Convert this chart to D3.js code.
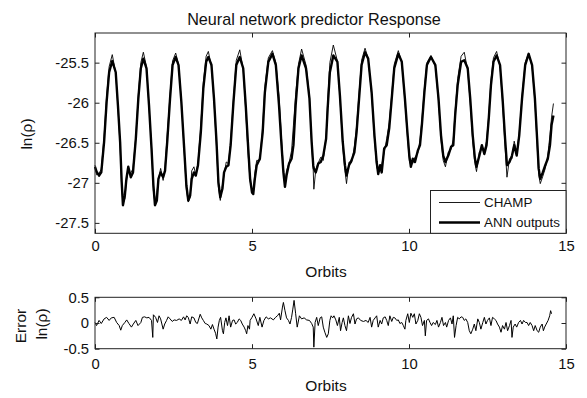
<!DOCTYPE html>
<html>
<head>
<meta charset="utf-8">
<script src="https://cdn.jsdelivr.net/npm/d3@7"></script>
<style>
  body { margin: 0; background: #fff; }
  svg { font-family: "Liberation Sans", Arial, sans-serif; }
</style>
</head>
<body>
<div id="chart"></div>
<script>
// orbit positions shared by the two upper curves
var orbits = [
  0.00,0.05,0.13,0.20,0.29,0.37,0.45,0.55,0.66,0.73,0.80,0.85,0.89,0.95,
  1.00,1.06,1.14,1.21,1.30,1.38,1.46,1.54,1.64,1.72,1.80,1.86,1.91,1.97,
  2.02,2.09,2.17,2.23,2.30,2.39,2.47,2.57,2.66,2.75,2.84,2.91,2.97,
  3.03,3.08,3.15,3.21,3.28,3.37,3.45,3.54,3.61,3.71,3.79,3.87,3.93,3.99,
  4.06,4.11,4.18,4.25,4.32,4.41,4.50,4.61,4.72,4.80,4.88,4.94,
  5.00,5.04,5.09,5.15,5.25,5.34,5.41,5.52,5.65,5.76,5.86,5.94,
  6.00,6.05,6.10,6.18,6.26,6.32,6.39,6.48,6.58,6.72,6.83,6.90,6.95,6.97,
  7.03,7.11,7.19,7.27,7.36,7.41,7.48,7.59,7.72,7.80,7.89,7.96,
  8.01,8.09,8.17,8.26,8.33,8.41,8.49,8.60,8.70,8.81,8.90,8.97,
  9.02,9.08,9.13,9.21,9.29,9.37,9.45,9.53,9.66,9.77,9.87,9.95,
  10.01,10.06,10.12,10.19,10.28,10.35,10.41,10.49,10.57,10.70,10.84,10.94,
  11.02,11.09,11.16,11.25,11.34,11.41,11.47,11.55,11.66,11.76,11.87,11.95,
  12.03,12.10,12.15,12.24,12.32,12.40,12.47,12.54,12.61,12.69,12.79,12.90,12.98,
  13.06,13.12,13.20,13.28,13.35,13.43,13.51,13.60,13.70,13.81,13.92,
  14.01,14.08,14.13,14.18,14.26,14.34,14.42,14.49,14.54,14.60
];

// measured density, ln(rho)
var champ = [
  -26.78,-26.90,-26.88,-26.83,-26.42,-25.92,-25.55,-25.40,-25.63,-26.06,-26.55,-27.06,-27.26,-27.20,
  -26.98,-26.85,-26.88,-26.82,-26.42,-25.90,-25.50,-25.37,-25.55,-26.05,-26.55,-27.10,-27.25,-27.12,
  -26.96,-26.82,-26.97,-26.80,-26.40,-25.90,-25.48,-25.38,-25.52,-25.98,-26.60,-27.08,-27.24,
  -27.18,-26.85,-26.80,-26.90,-26.75,-26.28,-25.75,-25.42,-25.36,-25.55,-25.98,-26.55,-27.05,-27.22,
  -27.02,-26.90,-26.74,-26.76,-26.48,-25.95,-25.47,-25.34,-25.58,-26.10,-26.66,-26.98,
  -27.10,-27.12,-26.88,-26.72,-26.72,-26.30,-25.80,-25.44,-25.35,-25.50,-25.92,-26.45,
  -26.82,-27.00,-26.85,-26.75,-26.60,-26.28,-25.90,-25.52,-25.33,-25.53,-25.92,-26.52,-26.84,-27.08,
  -26.84,-26.75,-26.68,-26.72,-26.42,-25.98,-25.50,-25.28,-25.48,-25.93,-26.55,-26.85,
  -27.01,-26.74,-26.75,-26.55,-26.30,-25.88,-25.47,-25.32,-25.45,-25.90,-26.45,-26.80,
  -26.86,-26.82,-26.78,-26.62,-26.45,-26.25,-25.90,-25.52,-25.35,-25.50,-25.98,-26.42,
  -26.72,-26.78,-26.76,-26.68,-26.63,-26.47,-26.22,-25.82,-25.50,-25.41,-25.55,-25.98,
  -26.46,-26.72,-26.80,-26.62,-26.58,-26.46,-26.10,-25.70,-25.42,-25.37,-25.60,-26.00,
  -26.48,-26.76,-26.86,-26.62,-26.58,-26.60,-26.48,-26.15,-25.72,-25.44,-25.36,-25.55,-26.00,
  -26.55,-26.93,-26.70,-26.70,-26.48,-26.62,-26.38,-25.92,-25.50,-25.38,-25.55,
  -25.98,-26.52,-26.90,-27.01,-26.92,-26.82,-26.66,-26.40,-26.18,-26.01
];

// network prediction, ln(rho)
var ann = [
  -26.80,-26.86,-26.91,-26.87,-26.49,-25.99,-25.62,-25.48,-25.62,-26.03,-26.49,-26.99,-27.28,-27.16,
  -26.95,-26.80,-26.93,-26.87,-26.45,-25.95,-25.57,-25.45,-25.57,-26.03,-26.57,-27.03,-27.28,-27.22,
  -26.95,-26.87,-26.93,-26.85,-26.49,-25.95,-25.53,-25.43,-25.53,-25.99,-26.57,-27.03,-27.22,
  -27.16,-26.95,-26.87,-26.91,-26.78,-26.37,-25.82,-25.49,-25.43,-25.53,-25.95,-26.49,-26.99,-27.18,
  -27.07,-26.87,-26.80,-26.78,-26.53,-25.99,-25.53,-25.43,-25.57,-26.03,-26.57,-26.95,
  -27.12,-27.14,-26.95,-26.78,-26.70,-26.37,-25.87,-25.49,-25.39,-25.53,-26.03,-26.53,
  -26.87,-27.05,-26.91,-26.76,-26.70,-26.53,-26.03,-25.57,-25.41,-25.57,-25.95,-26.49,-26.78,-26.82,
  -26.87,-26.76,-26.74,-26.66,-26.45,-26.07,-25.62,-25.41,-25.49,-25.91,-26.49,-26.78,
  -26.91,-26.78,-26.72,-26.62,-26.37,-25.95,-25.53,-25.37,-25.45,-25.87,-26.41,-26.74,
  -26.89,-26.78,-26.87,-26.57,-26.53,-26.32,-25.95,-25.57,-25.39,-25.49,-25.95,-26.37,
  -26.66,-26.80,-26.70,-26.74,-26.60,-26.53,-26.28,-25.87,-25.53,-25.43,-25.53,-25.95,
  -26.41,-26.66,-26.74,-26.66,-26.55,-26.53,-26.16,-25.78,-25.49,-25.47,-25.57,-25.95,
  -26.41,-26.70,-26.80,-26.66,-26.53,-26.64,-26.53,-26.20,-25.78,-25.49,-25.41,-25.53,-25.95,
  -26.45,-26.78,-26.74,-26.66,-26.53,-26.66,-26.41,-25.95,-25.53,-25.39,-25.53,
  -25.95,-26.45,-26.82,-26.95,-26.87,-26.78,-26.70,-26.53,-26.28,-26.16
];

// error panel
var errOrbits = [
  0.00,0.05,0.13,0.20,0.29,0.37,0.45,0.52,0.61,0.69,0.77,0.82,0.87,0.95,
  1.01,1.08,1.16,1.22,1.30,1.37,1.46,1.51,1.58,1.65,1.72,1.80,1.84,1.86,1.93,1.99,
  2.04,2.09,2.17,2.22,2.28,2.33,2.39,2.46,2.52,2.60,2.68,2.75,2.82,2.87,2.92,2.97,
  3.03,3.08,3.15,3.21,3.26,3.35,3.40,3.45,3.51,3.56,3.63,3.69,3.74,3.79,3.84,3.88,3.92,3.96,
  4.00,4.06,4.09,4.13,4.17,4.22,4.27,4.32,4.38,4.43,4.48,4.53,4.59,4.64,4.69,4.75,4.80,4.83,4.87,4.92,
  4.94,5.00,5.06,5.13,5.20,5.25,5.32,5.38,5.45,5.52,5.59,5.68,5.75,5.81,5.87,5.91,5.97,
  6.00,6.05,6.10,6.16,6.21,6.26,6.30,6.34,6.39,6.44,6.51,6.58,6.66,6.74,6.83,6.90,6.95,6.97,
  7.01,7.06,7.11,7.17,7.22,7.27,7.32,7.38,7.43,7.48,7.52,7.57,7.61,7.67,7.72,7.78,7.82,7.87,7.91,7.96,
  8.01,8.07,8.12,8.17,8.23,8.28,8.33,8.39,8.46,8.55,8.63,8.70,8.76,8.81,8.86,8.92,8.97,
  9.02,9.08,9.13,9.18,9.24,9.29,9.34,9.39,9.45,9.50,9.55,9.61,9.66,9.71,9.77,9.82,9.87,9.90,9.96,
  10.01,10.06,10.12,10.17,10.22,10.28,10.33,10.38,10.43,10.49,10.52,10.56,10.62,10.67,10.72,10.77,10.84,10.89,10.94,
  11.00,11.05,11.10,11.16,11.20,11.26,11.32,11.37,11.41,11.45,11.50,11.55,11.60,11.66,11.71,11.76,11.81,11.87,11.92,11.97,
  12.03,12.08,12.13,12.19,12.24,12.29,12.35,12.40,12.45,12.50,12.56,12.61,12.66,12.72,12.77,12.82,12.88,12.93,12.98,
  13.04,13.09,13.14,13.20,13.25,13.28,13.32,13.38,13.43,13.49,13.55,13.60,13.65,13.71,13.76,13.81,13.86,13.92,13.97,
  14.02,14.08,14.13,14.18,14.24,14.28,14.32,14.37,14.43,14.48,14.51,14.54
];
var errValues = [
  0.01,-0.05,0.05,-0.01,0.08,0.11,0.05,0.10,0.11,0.01,-0.05,-0.14,-0.05,0.01,
  0.06,-0.01,-0.08,-0.02,0.05,-0.05,0.01,0.11,0.12,0.10,0.11,0.05,-0.28,0.16,0.11,0.01,
  0.14,0.08,-0.12,-0.02,0.05,0.12,0.08,0.03,0.06,0.05,0.08,0.05,0.12,0.06,0.14,0.11,
  -0.02,0.12,0.10,0.01,-0.01,0.17,0.10,0.05,-0.01,-0.02,-0.05,-0.12,-0.03,-0.12,-0.20,-0.31,-0.08,0.05,
  0.11,-0.15,-0.21,0.01,0.10,-0.05,0.14,-0.08,0.05,0.06,-0.02,0.01,0.08,0.05,-0.02,-0.08,-0.15,-0.21,-0.05,-0.12,
  0.05,0.11,0.18,0.08,-0.05,0.11,-0.08,0.05,0.12,0.08,0.10,0.06,0.11,0.14,0.19,0.06,0.31,
  0.40,0.24,0.10,0.05,-0.02,0.11,0.27,0.44,0.18,-0.08,0.14,0.08,0.10,0.06,0.05,-0.01,-0.08,-0.47,
  0.01,0.11,-0.05,0.10,0.12,-0.08,-0.18,-0.28,-0.21,0.05,0.14,0.10,0.14,0.06,-0.05,0.11,-0.15,0.01,0.10,-0.05,
  -0.15,0.14,-0.01,0.11,0.18,-0.02,0.08,0.10,0.05,0.03,0.05,0.01,0.11,-0.08,0.05,0.10,0.14,
  -0.08,0.05,-0.02,0.10,0.12,0.05,-0.05,0.14,0.03,0.11,0.10,0.05,0.06,-0.01,0.01,-0.05,-0.12,0.05,0.18,
  0.01,0.19,0.11,0.18,-0.02,0.05,0.18,0.11,-0.05,0.05,-0.25,0.05,0.08,0.01,-0.05,0.01,-0.03,0.05,-0.08,
  0.01,0.11,-0.05,0.01,-0.08,0.05,0.10,-0.02,0.14,-0.28,-0.05,0.11,0.08,0.12,0.11,0.05,0.08,0.01,-0.15,-0.21,
  -0.12,-0.02,-0.15,0.08,0.01,-0.12,0.01,0.11,-0.02,0.05,0.10,-0.05,0.11,0.08,0.05,-0.02,-0.08,-0.18,-0.05,
  -0.12,0.01,-0.15,-0.05,0.05,-0.28,-0.08,-0.02,-0.08,0.01,0.05,-0.02,0.05,0.01,0.01,-0.05,0.01,-0.05,-0.15,
  -0.05,-0.15,-0.18,-0.08,-0.02,-0.15,-0.08,-0.02,0.05,0.14,0.24,0.18
];

// tick values
var xTicks = [0, 5, 10, 15];
var yTicks = [-27.5, -27, -26.5, -26, -25.5];
var errTicks = [-0.5, 0, 0.5];

var svg = d3.select("#chart")
  .append("svg")
  .attr("width", 587)
  .attr("height", 398);

// panel geometry
var left = 95, right = 566;
var top1 = 33, bottom1 = 233.3;
var top2 = 297.3, bottom2 = 348.7;
var tickLen = 4.5;
var axisColor = "#222";

var xScale = d3.scaleLinear().domain([0, 15]).range([left, right]);
var yScale = d3.scaleLinear().domain([-27.63, -25.13]).range([bottom1, top1]);
var errScale = d3.scaleLinear().domain([-0.5, 0.5]).range([bottom2, top2]);

// draw a box with inward ticks on all four sides
function drawAxes(yS, yVals, topY, bottomY, xPad) {
  var g = svg.append("g");

  function style(sel) {
    sel.attr("font-size", 14.8).attr("font-family", null);
    sel.select(".domain").remove();
    sel.selectAll(".tick line").attr("stroke", axisColor);
    sel.selectAll(".tick text").attr("fill", "#111");
  }

  g.append("g")
    .attr("transform", `translate(0, ${bottomY})`)
    .call(d3.axisBottom(xScale).tickValues(xTicks).tickSize(-tickLen).tickPadding(xPad).tickFormat(d => d))
    .call(style);

  g.append("g")
    .attr("transform", `translate(0, ${topY})`)
    .call(d3.axisTop(xScale).tickValues(xTicks).tickSize(-tickLen).tickFormat(""))
    .call(style);

  g.append("g")
    .attr("transform", `translate(${left}, 0)`)
    .call(d3.axisLeft(yS).tickValues(yVals).tickSize(-tickLen).tickPadding(6).tickFormat(d => String(d)))
    .call(style);

  g.append("g")
    .attr("transform", `translate(${right}, 0)`)
    .call(d3.axisRight(yS).tickValues(yVals).tickSize(-tickLen).tickFormat(""))
    .call(style);

  g.append("rect")
    .attr("x", left)
    .attr("y", topY)
    .attr("width", right - left)
    .attr("height", bottomY - topY)
    .attr("fill", "none")
    .attr("stroke", axisColor)
    .attr("stroke-width", 1);
}

// upper panel curves
var champLine = d3.line()
  .x((d, i) => xScale(orbits[i]))
  .y(d => yScale(d));

svg.append("path")
  .datum(champ)
  .attr("d", champLine)
  .attr("fill", "none")
  .attr("stroke", "#000")
  .attr("stroke-width", 0.9);

svg.append("path")
  .datum(ann)
  .attr("d", champLine)
  .attr("fill", "none")
  .attr("stroke", "#000")
  .attr("stroke-width", 2.4)
  .attr("stroke-linejoin", "round");

drawAxes(yScale, yTicks, top1, bottom1, 7);

// legend
var legend = svg.append("g");
legend.append("rect")
  .attr("x", 430.5)
  .attr("y", 190.5)
  .attr("width", right - 430.5)
  .attr("height", bottom1 - 190.5)
  .attr("fill", "#fff")
  .attr("stroke", axisColor);

var legendItems = [
  { name: "CHAMP", width: 0.9, y: 202.5 },
  { name: "ANN outputs", width: 2.4, y: 222.5 }
];
legendItems.forEach(function(item) {
  legend.append("line")
    .attr("x1", 439).attr("x2", 480)
    .attr("y1", item.y).attr("y2", item.y)
    .attr("stroke", "#000")
    .attr("stroke-width", item.width);
  legend.append("text")
    .attr("x", 484)
    .attr("y", item.y)
    .attr("dy", "0.35em")
    .attr("font-size", 13.4)
    .attr("fill", "#111")
    .text(item.name);
});

// error panel
var errLine = d3.line()
  .x((d, i) => xScale(errOrbits[i]))
  .y(d => errScale(d));

svg.append("path")
  .datum(errValues)
  .attr("d", errLine)
  .attr("fill", "none")
  .attr("stroke", "#000")
  .attr("stroke-width", 1);

drawAxes(errScale, errTicks, top2, bottom2, 10);

// titles and axis labels
svg.append("text")
  .attr("x", 314)
  .attr("y", 25)
  .attr("text-anchor", "middle")
  .attr("font-size", 16.2)
  .attr("fill", "#111")
  .text("Neural network predictor Response");

svg.append("text")
  .attr("x", 326)
  .attr("y", 277)
  .attr("text-anchor", "middle")
  .attr("font-size", 15.5)
  .attr("fill", "#111")
  .text("Orbits");

svg.append("text")
  .attr("x", 326)
  .attr("y", 391)
  .attr("text-anchor", "middle")
  .attr("font-size", 15.5)
  .attr("fill", "#111")
  .text("Orbits");

svg.append("text")
  .attr("transform", "translate(31.5, 134) rotate(-90)")
  .attr("text-anchor", "middle")
  .attr("font-size", 15.5)
  .attr("fill", "#111")
  .text("ln(ρ)");

svg.append("text")
  .attr("transform", "translate(26, 326) rotate(-90)")
  .attr("text-anchor", "middle")
  .attr("font-size", 15.5)
  .attr("fill", "#111")
  .text("Error");

svg.append("text")
  .attr("transform", "translate(46.5, 324) rotate(-90)")
  .attr("text-anchor", "middle")
  .attr("font-size", 15.5)
  .attr("fill", "#111")
  .text("ln(ρ)");
</script>
</body>
</html>
